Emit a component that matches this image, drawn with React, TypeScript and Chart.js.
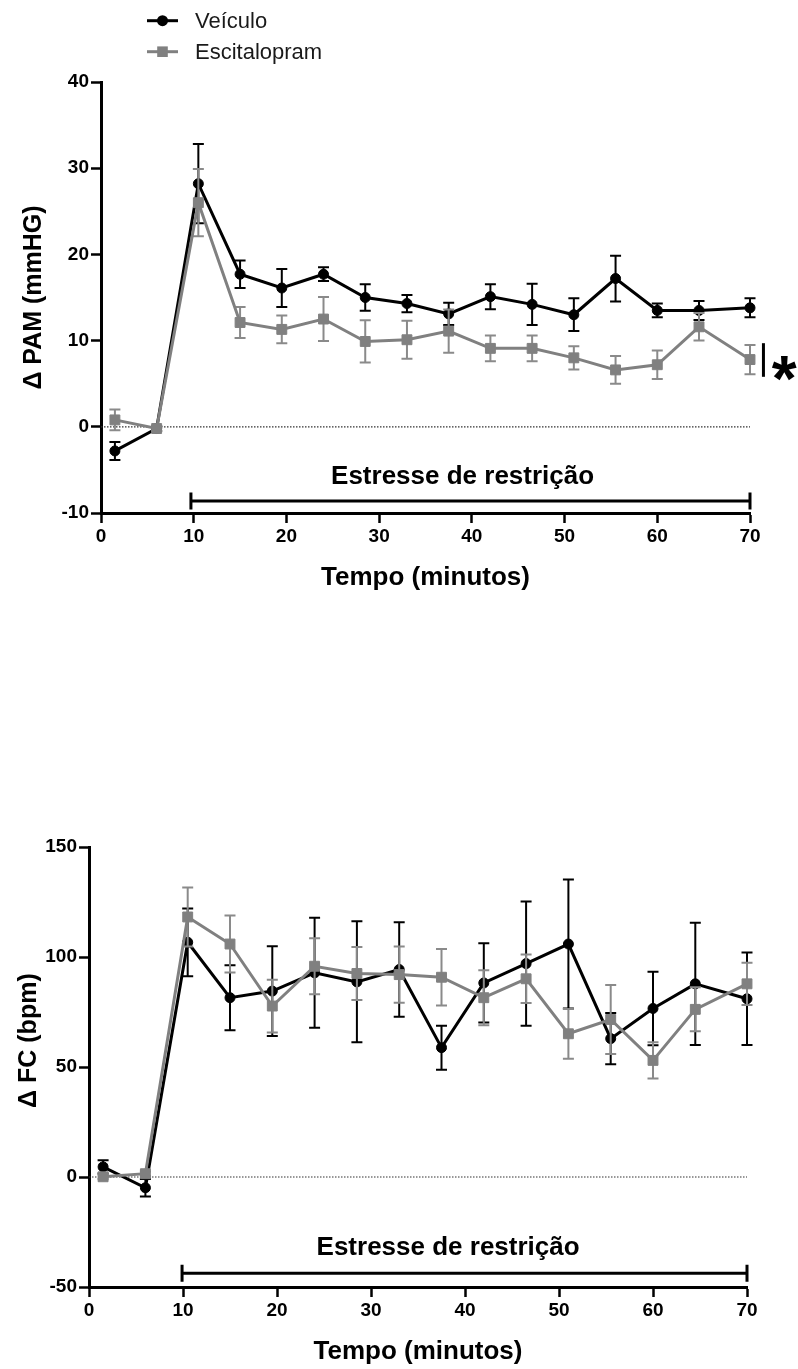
import React, { useEffect, useRef } from "react";
import { Chart, registerables } from "chart.js";
Chart.register(...registerables);

const FONT = "'Liberation Sans', Arial, Helvetica, sans-serif";

// ---------- data ----------
const seriesLabels = ["Veículo", "Escitalopram"];
const seriesColors = ["#000000", "#808080"];
const errorColors = ["#000000", "#8a8a8a"];

const times = [1.5, 6, 10.5, 15, 19.5, 24, 28.5, 33, 37.5, 42, 46.5, 51, 55.5, 60, 64.5, 70];

const pamVeiculo = [-2.8, -0.2, 28.2, 17.7, 16.1, 17.7, 15.0, 14.3, 13.1, 15.1, 14.2, 13.0, 17.2, 13.5, 13.5, 13.8];
const pamVeiculoSem = [1.05, 0.3, 4.6, 1.6, 2.2, 0.8, 1.55, 1.0, 1.3, 1.45, 2.4, 1.9, 2.65, 0.8, 1.1, 1.1];
const pamEscitalopram = [0.8, -0.2, 26.0, 12.1, 11.3, 12.5, 9.9, 10.1, 11.1, 9.1, 9.1, 8.0, 6.6, 7.2, 11.6, 7.8];
const pamEscitalopramSem = [1.2, 0.3, 3.9, 1.8, 1.6, 2.55, 2.45, 2.2, 2.5, 1.5, 1.5, 1.35, 1.6, 1.65, 1.6, 1.7];

const fcVeiculo = [4.6, -4.9, 106.7, 81.5, 84.5, 92.8, 88.7, 94.3, 58.8, 88.2, 97.0, 105.9, 62.9, 76.6, 87.8, 81.0];
const fcVeiculoSem = [3, 4, 15.4, 14.8, 20.4, 25, 27.5, 21.5, 10, 18, 28.2, 29.3, 11.7, 16.7, 27.8, 21];
const fcEscitalopram = [0.1, 1.5, 118.2, 105.9, 77.7, 95.8, 92.5, 92.0, 90.8, 81.5, 90.1, 65.1, 71.6, 53.0, 76.2, 87.8];
const fcEscitalopramSem = [1, 1, 13.4, 13, 12, 12.7, 12, 12.8, 12.8, 12.5, 11, 11.3, 15.7, 8.2, 10, 9.6];

const xTicks = [0, 10, 20, 30, 40, 50, 60, 70];
const pamTicks = [-10, 0, 10, 20, 30, 40];
const fcTicks = [-50, 0, 50, 100, 150];

const xTitle = "Tempo (minutos)";
const pamTitle = "Δ PAM (mmHG)";
const fcTitle = "Δ FC (bpm)";
const stressLabel = "Estresse de restrição";

const pamStressRange = [9.7, 70];
const pamStressLevel = -8.6;
const pamStressTextPos = [39, -5.8];
const pamTitleCenter = 15;
const fcStressRange = [9.9, 70];
const fcStressLevel = -43.7;
const fcStressTextPos = [38.2, -32.4];
const fcTitleCenter = 62;

const pamSigRange = [5.8, 9.7];
const pamSigX = 71.45;
const pamSigStarPos = [73.7, 7.2];
const sigMark = "*";

// ---------- plugins ----------
const errorBarPlugin = {
  id: "errorBars",
  beforeDatasetDraw(chart: any, args: any) {
    const ds = chart.data.datasets[args.index];
    if (!ds.errors) return;
    const y = chart.scales.y;
    const ctx = chart.ctx;
    ctx.save();
    ctx.strokeStyle = ds.errColor;
    ctx.lineWidth = 2;
    const cap = 5.5;
    args.meta.data.forEach((pt: any, i: number) => {
      const v = ds.data[i].y;
      const e = ds.errors[i];
      const px = pt.x;
      const yt = y.getPixelForValue(v + e);
      const yb = y.getPixelForValue(v - e);
      ctx.beginPath();
      ctx.moveTo(px, yt);
      ctx.lineTo(px, yb);
      ctx.moveTo(px - cap, yt);
      ctx.lineTo(px + cap, yt);
      ctx.moveTo(px - cap, yb);
      ctx.lineTo(px + cap, yb);
      ctx.stroke();
    });
    ctx.restore();
  },
};

function annotPlugin(cfg: any) {
  return {
    id: "annot",
    beforeDatasetsDraw(chart: any) {
      const { ctx } = chart;
      const x = chart.scales.x;
      const y = chart.scales.y;
      ctx.save();
      // zero reference line
      ctx.strokeStyle = "#333";
      ctx.lineWidth = 1.2;
      ctx.setLineDash([1.5, 1.5]);
      ctx.beginPath();
      ctx.moveTo(x.getPixelForValue(xTicks[0]), y.getPixelForValue(0));
      ctx.lineTo(x.getPixelForValue(xTicks[xTicks.length - 1]), y.getPixelForValue(0));
      ctx.stroke();
      ctx.setLineDash([]);
      // stress bar
      const x0 = x.getPixelForValue(cfg.stressRange[0]);
      const x1 = x.getPixelForValue(cfg.stressRange[1]);
      const by = y.getPixelForValue(cfg.stressLevel);
      ctx.strokeStyle = "#000";
      ctx.lineWidth = 3;
      ctx.beginPath();
      ctx.moveTo(x0, by);
      ctx.lineTo(x1, by);
      ctx.moveTo(x0, by - 8.5);
      ctx.lineTo(x0, by + 8.5);
      ctx.moveTo(x1, by - 8.5);
      ctx.lineTo(x1, by + 8.5);
      ctx.stroke();
      ctx.fillStyle = "#000";
      ctx.font = `bold 26px ${FONT}`;
      ctx.textAlign = "center";
      ctx.textBaseline = "middle";
      ctx.fillText(stressLabel, x.getPixelForValue(cfg.stressTextPos[0]), y.getPixelForValue(cfg.stressTextPos[1]));
      // y-axis title
      ctx.save();
      ctx.translate(cfg.titleX, y.getPixelForValue(cfg.titleCenter));
      ctx.rotate(-Math.PI / 2);
      ctx.font = `bold 25px ${FONT}`;
      ctx.fillText(cfg.yTitle, 0, 0);
      ctx.restore();
      ctx.restore();
    },
    afterDraw(chart: any) {
      const { ctx } = chart;
      const x = chart.scales.x;
      const y = chart.scales.y;
      ctx.save();
      if (cfg.sig) {
        const sx = x.getPixelForValue(pamSigX);
        ctx.strokeStyle = "#000";
        ctx.lineWidth = 3;
        ctx.beginPath();
        ctx.moveTo(sx, y.getPixelForValue(pamSigRange[0]));
        ctx.lineTo(sx, y.getPixelForValue(pamSigRange[1]));
        ctx.stroke();
        ctx.fillStyle = "#000";
        ctx.font = `bold 64px ${FONT}`;
        ctx.textAlign = "center";
        ctx.textBaseline = "alphabetic";
        ctx.fillText(sigMark, x.getPixelForValue(pamSigStarPos[0]), y.getPixelForValue(pamSigStarPos[1]) + 36);
      }
      if (cfg.legend) {
        const rows = [20.7, 51.7];
        chart.data.datasets
          .slice()
          .sort((a: any, b: any) => a.legendIndex - b.legendIndex)
          .forEach((ds: any, i: number) => {
            const ly = rows[i];
            ctx.strokeStyle = ds.borderColor;
            ctx.lineWidth = 3;
            ctx.beginPath();
            ctx.moveTo(147, ly);
            ctx.lineTo(178, ly);
            ctx.stroke();
            ctx.fillStyle = ds.borderColor;
            if (ds.pointStyle === "circle") {
              ctx.beginPath();
              ctx.arc(162.5, ly, 5.5, 0, Math.PI * 2);
              ctx.fill();
            } else {
              ctx.fillRect(162.5 - 5.3, ly - 5.3, 10.6, 10.6);
            }
            ctx.fillStyle = "#1a1a1a";
            ctx.font = `22px ${FONT}`;
            ctx.textAlign = "left";
            ctx.textBaseline = "middle";
            ctx.fillText(ds.label, 195, ly + 1);
          });
      }
      ctx.restore();
    },
  };
}

function makeDataset(idx: number, values: number[], sem: number[]) {
  const isCircle = idx === 0;
  return {
    label: seriesLabels[idx],
    legendIndex: idx,
    data: times.map((t, i) => ({ x: t, y: values[i] })),
    errors: sem,
    errColor: errorColors[idx],
    borderColor: seriesColors[idx],
    backgroundColor: seriesColors[idx],
    borderWidth: 3,
    pointStyle: isCircle ? "circle" : "rect",
    pointRadius: isCircle ? 5 : 7,
    pointBorderWidth: 1,
    pointBackgroundColor: seriesColors[idx],
    pointBorderColor: seriesColors[idx],
    tension: 0,
    clip: false,
    order: isCircle ? 1 : 0,
  };
}

function makeConfig(opts: any) {
  const tickFont = { family: FONT, size: 19, weight: "bold" as const };
  return {
    type: "line",
    data: {
      datasets: [
        makeDataset(0, opts.v, opts.vSem),
        makeDataset(1, opts.e, opts.eSem),
      ],
    },
    options: {
      responsive: false,
      animation: false,
      events: [],
      layout: { autoPadding: false, padding: opts.padding },
      plugins: { legend: { display: false }, tooltip: { enabled: false }, title: { display: false } },
      scales: {
        x: {
          type: "linear",
          min: xTicks[0],
          max: xTicks[xTicks.length - 1],
          afterBuildTicks: (s: any) => {
            s.ticks = xTicks.map((v) => ({ value: v }));
          },
          afterFit: (s: any) => {
            s.height = 80;
          },
          border: { display: true, width: 3, color: "#000" },
          grid: { display: true, drawOnChartArea: false, drawTicks: true, tickLength: 10, tickWidth: 2.5, tickColor: "#000" },
          ticks: { font: tickFont, color: "#000", padding: 2, maxRotation: 0 },
          title: {
            display: true,
            text: xTitle,
            font: { family: FONT, size: 26, weight: "bold" },
            color: "#000",
            padding: { top: 0, bottom: 0 },
          },
        },
        y: {
          type: "linear",
          min: opts.yTicks[0],
          max: opts.yTicks[opts.yTicks.length - 1],
          afterBuildTicks: (s: any) => {
            s.ticks = opts.yTicks.map((v: number) => ({ value: v }));
          },
          afterFit: (s: any) => {
            s.width = opts.yWidth;
          },
          border: { display: true, width: 3, color: "#000" },
          grid: { display: true, drawOnChartArea: false, drawTicks: true, tickLength: 10, tickWidth: 2.5, tickColor: "#000" },
          ticks: { font: tickFont, color: "#000", padding: 2 },
          title: { display: false },
        },
      },
    },
    plugins: [errorBarPlugin, annotPlugin(opts.annot)],
  } as any;
}

function ChartCanvas({ config, width, height, top }: any) {
  const ref = useRef<HTMLCanvasElement | null>(null);
  useEffect(() => {
    if (!ref.current) return;
    const chart = new Chart(ref.current, config);
    return () => chart.destroy();
  }, []);
  return (
    <canvas
      ref={ref}
      width={width}
      height={height}
      style={{ position: "absolute", left: 0, top, width, height }}
    />
  );
}

export default function App() {
  const topConfig = makeConfig({
    v: pamVeiculo,
    vSem: pamVeiculoSem,
    e: pamEscitalopram,
    eSem: pamEscitalopramSem,
    yTicks: pamTicks,
    yWidth: 101,
    padding: { left: 0, top: 82, right: 48, bottom: 27 },
    annot: {
      stressRange: pamStressRange,
      stressLevel: pamStressLevel,
      stressTextPos: pamStressTextPos,
      yTitle: pamTitle,
      titleX: 34,
      titleCenter: pamTitleCenter,
      sig: true,
      legend: true,
    },
  });
  const bottomConfig = makeConfig({
    v: fcVeiculo,
    vSem: fcVeiculoSem,
    e: fcEscitalopram,
    eSem: fcEscitalopramSem,
    yTicks: fcTicks,
    yWidth: 89,
    padding: { left: 0, top: 207, right: 51, bottom: 2 },
    annot: {
      stressRange: fcStressRange,
      stressLevel: fcStressLevel,
      stressTextPos: fcStressTextPos,
      yTitle: fcTitle,
      titleX: 29,
      titleCenter: fcTitleCenter,
      sig: false,
      legend: false,
    },
  });
  return (
    <div style={{ position: "absolute", left: 0, top: 0, width: 798, height: 1369, background: "#fff" }}>
      <ChartCanvas config={topConfig} width={798} height={620} top={0} />
      <ChartCanvas config={bottomConfig} width={798} height={729} top={640} />
    </div>
  );
}
